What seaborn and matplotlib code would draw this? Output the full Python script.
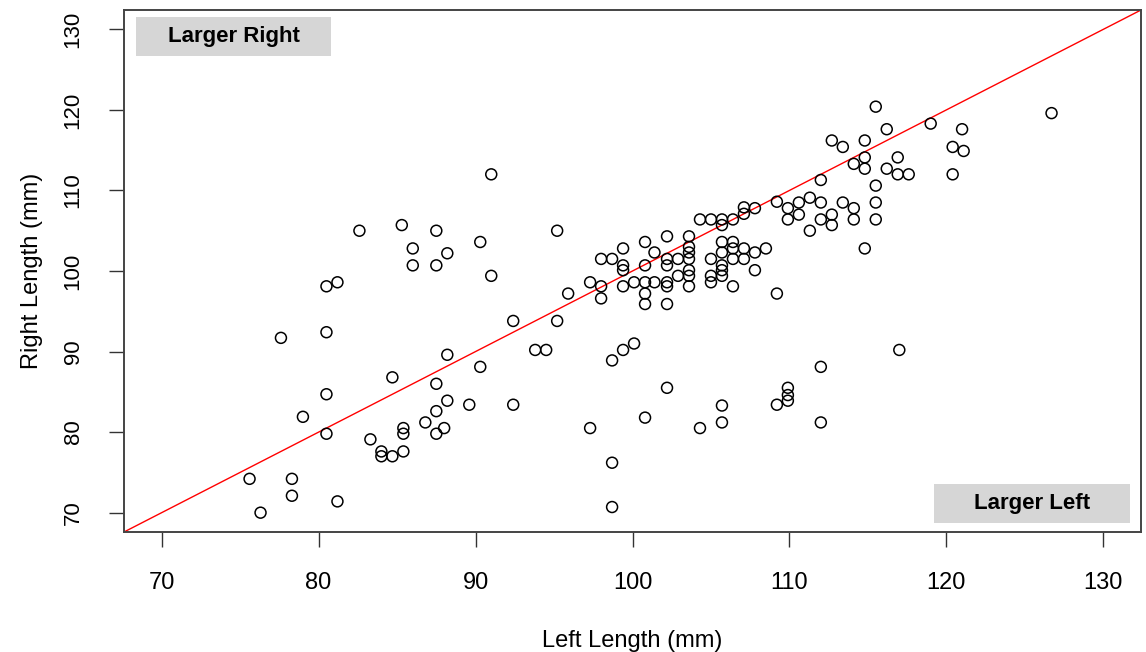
import matplotlib
matplotlib.use("Agg")
import matplotlib.pyplot as plt
import matplotlib.patches as mpatches
import seaborn as sns
import pandas as pd

# ---- data ----
left_length = [
    82.6, 85.3, 87.5, 86.0, 88.2, 86.0, 87.5, 80.5, 81.2, 77.6,
    80.5, 88.2, 84.7, 87.5, 88.2, 80.5, 87.5, 79.0, 86.8, 85.4,
    85.4, 80.5, 88.0, 87.5, 83.3, 84.0, 84.0, 84.7, 85.4, 75.6,
    78.3, 78.3, 81.2, 76.3,
    91.0, 90.3, 91.0, 95.2, 95.9, 92.4, 95.2, 90.3, 93.8, 94.5,
    98.7, 99.4, 100.1, 102.2, 89.6, 92.4, 97.3, 100.8, 98.7, 98.7,
    104.3, 105.7, 105.7, 109.2,
    107.1, 107.8, 109.2, 107.1, 104.3, 105.0, 105.7, 106.4, 105.7, 102.2,
    103.6, 100.8, 99.4, 101.4, 103.6, 103.6, 105.7, 106.4, 106.4, 107.1,
    108.5, 107.8, 105.7, 98.0, 98.7, 99.4, 99.4, 100.8, 102.2, 102.2,
    102.9, 103.6, 103.6, 105.0, 106.4, 107.1, 105.7, 105.7, 105.7, 107.8,
    103.6, 102.9, 105.0, 105.0, 97.3, 98.0, 98.0, 99.4, 100.1, 100.8,
    101.4, 102.2, 102.2, 103.6, 100.8, 100.8, 102.2, 106.4, 109.2,
    115.5, 126.7, 116.2, 119.0, 121.0, 112.7, 113.4, 114.8, 120.4, 121.1,
    114.8, 114.1, 114.8, 116.9, 116.2, 116.9, 117.6, 120.4, 112.0, 115.5,
    109.9, 110.6, 111.3, 112.0, 113.4, 114.1, 115.5, 109.9, 110.6, 112.0,
    112.7, 112.7, 114.1, 115.5, 111.3, 114.8,
    117.0, 112.0, 109.9, 109.9, 109.9, 112.0,
]
right_length = [
    105.0, 105.7, 105.0, 102.8, 102.2, 100.7, 100.7, 98.1, 98.6, 91.7,
    92.4, 89.6, 86.8, 86.0, 83.9, 84.7, 82.6, 81.9, 81.2, 80.5,
    79.8, 79.8, 80.5, 79.8, 79.1, 77.6, 77.0, 77.0, 77.6, 74.2,
    74.2, 72.1, 71.4, 70.0,
    112.0, 103.6, 99.4, 105.0, 97.2, 93.8, 93.8, 88.1, 90.2, 90.2,
    88.9, 90.2, 91.0, 85.5, 83.4, 83.4, 80.5, 81.8, 76.2, 70.7,
    80.5, 83.3, 81.2, 83.4,
    107.9, 107.8, 108.6, 107.1, 106.4, 106.4, 106.4, 106.4, 105.7, 104.3,
    104.3, 103.6, 102.8, 102.3, 103.0, 102.3, 103.6, 103.6, 102.8, 102.8,
    102.8, 102.3, 102.3, 101.5, 101.5, 100.7, 100.1, 100.7, 101.5, 100.7,
    101.5, 101.5, 100.1, 101.5, 101.5, 101.5, 100.7, 100.1, 99.4, 100.1,
    99.4, 99.4, 99.4, 98.6, 98.6, 98.1, 96.6, 98.1, 98.6, 98.6,
    98.6, 98.6, 98.1, 98.1, 97.2, 95.9, 95.9, 98.1, 97.2,
    120.4, 119.6, 117.6, 118.3, 117.6, 116.2, 115.4, 116.2, 115.4, 114.9,
    114.1, 113.3, 112.7, 114.1, 112.7, 112.0, 112.0, 112.0, 111.3, 110.6,
    107.8, 108.5, 109.1, 108.5, 108.5, 107.8, 108.5, 106.4, 107.0, 106.4,
    107.0, 105.7, 106.4, 106.4, 105.0, 102.8,
    90.2, 88.1, 85.5, 84.6, 83.9, 81.2,
]

axis_ticks = [70, 80, 90, 100, 110, 120, 130]
axis_limits = [70, 130]
ref_intercept = 0.0
ref_slope = 1.0
x_label = "Left Length (mm)"
y_label = "Right Length (mm)"
box_labels = ["Larger Right", "Larger Left"]

df = pd.DataFrame({"left": left_length, "right": right_length})

# ---- figure ----
sns.set_style("white")
plt.rcParams["font.family"] = ["Liberation Sans", "DejaVu Sans"]
plt.rcParams["text.color"] = "black"
plt.rcParams["axes.labelcolor"] = "black"
plt.rcParams["xtick.color"] = "black"
plt.rcParams["ytick.color"] = "black"

fig = plt.figure(figsize=(11.46, 6.52), dpi=100)
ax = fig.add_axes([124 / 1146, 1 - 532 / 652, 1017 / 1146, 522 / 652])

# R-style 4% expansion of the axis limits
span = axis_limits[1] - axis_limits[0]
ax.set_xlim(axis_limits[0] - 0.04 * span, axis_limits[1] + 0.04 * span)
ax.set_ylim(axis_limits[0] - 0.04 * span, axis_limits[1] + 0.04 * span)

sns.scatterplot(data=df, x="left", y="right", ax=ax, s=62, marker="o",
                facecolor="none", edgecolor="black", linewidth=1.1, zorder=3)

ax.axline((0, ref_intercept), slope=ref_slope, color="#ff0000", lw=1.0, zorder=2)

ax.set_xticks(axis_ticks)
ax.set_yticks(axis_ticks)
ax.set_xticklabels([str(t) for t in axis_ticks], fontsize=17)
ax.set_yticklabels([str(t) for t in axis_ticks], fontsize=16, rotation=90, va="center")
ax.tick_params(axis="both", direction="out", length=11, width=1.0, color="#333333",
               bottom=True, left=True)
ax.tick_params(axis="x", pad=18)
ax.tick_params(axis="y", pad=18)
ax.set_xlabel(x_label, fontsize=17, labelpad=26)
ax.set_ylabel(y_label, fontsize=17, labelpad=14)

for sp in ax.spines.values():
    sp.set_visible(True)
    sp.set_color("#444444")
    sp.set_linewidth(1.4)

# annotation boxes (axes-fraction positions)
boxes = [
    (0.0118, 0.9119, 0.1917, 0.0747),
    (0.7965, 0.0172, 0.1925, 0.0748),
]
for (bx, by, bw, bh), lab in zip(boxes, box_labels):
    ax.add_patch(mpatches.Rectangle((bx, by), bw, bh, transform=ax.transAxes,
                                    facecolor="#d6d6d6", edgecolor="none", zorder=4))
    ax.text(bx + bw / 2, by + bh / 2, lab, transform=ax.transAxes, ha="center",
            va="center", fontsize=16, fontweight="bold", color="black", zorder=5)

fig.savefig("out.png", dpi=100)
